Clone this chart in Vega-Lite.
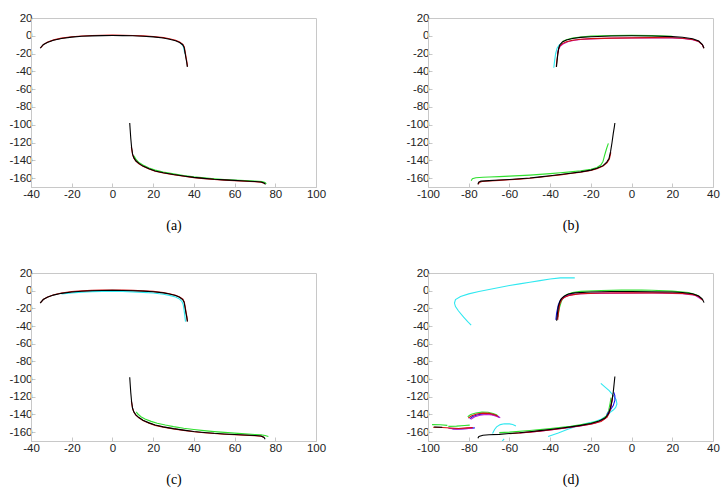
{
"$schema":"https://vega.github.io/schema/vega-lite/v6.json",
"padding":{"left":8,"top":11,"right":1,"bottom":5},
"config":{"view":{"stroke":"#c8c8c8"},"axis":{"grid":false,"labelFlush":false,"labelOverlap":false,"labelExpr":"'' + datum.value","domainColor":"#c8c8c8","tickColor":"#c8c8c8","tickSize":-4,"labelFont":"Liberation Sans","labelFontSize":11.5,"labelColor":"#222","titleFont":"Liberation Serif","titleFontSize":14,"titleFontWeight":"normal","titleColor":"#000","titlePadding":19},"axisX":{"labelPadding":5},"axisY":{"labelPadding":3}},
"datasets":{"pts":[
{"p":"a","s":"au1c","c":"1c","x":33.5,"y":-8.2},{"p":"a","s":"au1c","c":"1c","x":34.6,"y":-11},{"p":"a","s":"au1c","c":"1c","x":35.1,"y":-14},{"p":"a","s":"au1c","c":"1c","x":35.5,"y":-20},
{"p":"a","s":"au5r","c":"5r","x":-35.3,"y":-13.6},{"p":"a","s":"au5r","c":"5r","x":-33.8,"y":-9.6},{"p":"a","s":"au5r","c":"5r","x":-31.8,"y":-7.1},{"p":"a","s":"au5r","c":"5r","x":-28.8,"y":-4.6},{"p":"a","s":"au5r","c":"5r","x":-25,"y":-2.6},{"p":"a","s":"au5r","c":"5r","x":-20,"y":-1.1},{"p":"a","s":"au5r","c":"5r","x":-15,"y":-0.2},{"p":"a","s":"au5r","c":"5r","x":-10,"y":0.3},{"p":"a","s":"au5r","c":"5r","x":-5,"y":0.6},{"p":"a","s":"au5r","c":"5r","x":0,"y":0.7},{"p":"a","s":"au5r","c":"5r","x":5,"y":0.6},{"p":"a","s":"au5r","c":"5r","x":10,"y":0.4},{"p":"a","s":"au5r","c":"5r","x":15,"y":-0.1},{"p":"a","s":"au5r","c":"5r","x":20,"y":-0.8},{"p":"a","s":"au5r","c":"5r","x":25,"y":-2.1},{"p":"a","s":"au5r","c":"5r","x":28,"y":-3.4},{"p":"a","s":"au5r","c":"5r","x":31,"y":-5.1},{"p":"a","s":"au5r","c":"5r","x":33,"y":-7.1},{"p":"a","s":"au5r","c":"5r","x":34.6,"y":-9.6},{"p":"a","s":"au5r","c":"5r","x":35.3,"y":-12.6},{"p":"a","s":"au5r","c":"5r","x":35.7,"y":-17.6},{"p":"a","s":"au5r","c":"5r","x":36.2,"y":-24.6},{"p":"a","s":"au5r","c":"5r","x":36.6,"y":-29.6},{"p":"a","s":"au5r","c":"5r","x":36.9,"y":-34.6},
{"p":"a","s":"au6k","c":"6k","x":-35.5,"y":-14},{"p":"a","s":"au6k","c":"6k","x":-34,"y":-10},{"p":"a","s":"au6k","c":"6k","x":-32,"y":-7.5},{"p":"a","s":"au6k","c":"6k","x":-29,"y":-5},{"p":"a","s":"au6k","c":"6k","x":-25,"y":-3},{"p":"a","s":"au6k","c":"6k","x":-20,"y":-1.5},{"p":"a","s":"au6k","c":"6k","x":-15,"y":-0.6},{"p":"a","s":"au6k","c":"6k","x":-10,"y":-0.1},{"p":"a","s":"au6k","c":"6k","x":-5,"y":0.2},{"p":"a","s":"au6k","c":"6k","x":0,"y":0.3},{"p":"a","s":"au6k","c":"6k","x":5,"y":0.2},{"p":"a","s":"au6k","c":"6k","x":10,"y":0},{"p":"a","s":"au6k","c":"6k","x":15,"y":-0.5},{"p":"a","s":"au6k","c":"6k","x":20,"y":-1.2},{"p":"a","s":"au6k","c":"6k","x":25,"y":-2.5},{"p":"a","s":"au6k","c":"6k","x":28,"y":-3.8},{"p":"a","s":"au6k","c":"6k","x":31,"y":-5.5},{"p":"a","s":"au6k","c":"6k","x":33,"y":-7.5},{"p":"a","s":"au6k","c":"6k","x":34.5,"y":-10},{"p":"a","s":"au6k","c":"6k","x":35.2,"y":-13},{"p":"a","s":"au6k","c":"6k","x":35.6,"y":-18},{"p":"a","s":"au6k","c":"6k","x":36.1,"y":-25},{"p":"a","s":"au6k","c":"6k","x":36.5,"y":-30},{"p":"a","s":"au6k","c":"6k","x":36.8,"y":-35},
{"p":"a","s":"al2g","c":"2g","x":10.6,"y":-135},{"p":"a","s":"al2g","c":"2g","x":11.5,"y":-138.8},{"p":"a","s":"al2g","c":"2g","x":13,"y":-142.5},{"p":"a","s":"al2g","c":"2g","x":15,"y":-145.3},{"p":"a","s":"al2g","c":"2g","x":18,"y":-148.6},{"p":"a","s":"al2g","c":"2g","x":21,"y":-151},{"p":"a","s":"al2g","c":"2g","x":25,"y":-153.2},{"p":"a","s":"al2g","c":"2g","x":30,"y":-155.2},{"p":"a","s":"al2g","c":"2g","x":35,"y":-157},{"p":"a","s":"al2g","c":"2g","x":40,"y":-158.5},{"p":"a","s":"al2g","c":"2g","x":45,"y":-159.7},{"p":"a","s":"al2g","c":"2g","x":50,"y":-160.7},{"p":"a","s":"al2g","c":"2g","x":55,"y":-161.5},{"p":"a","s":"al2g","c":"2g","x":60,"y":-162.1},{"p":"a","s":"al2g","c":"2g","x":65,"y":-162.7},{"p":"a","s":"al2g","c":"2g","x":70,"y":-163.3},{"p":"a","s":"al2g","c":"2g","x":73.5,"y":-163.9},{"p":"a","s":"al2g","c":"2g","x":75,"y":-165},{"p":"a","s":"al2g","c":"2g","x":75.6,"y":-166.6},
{"p":"a","s":"al5r","c":"5r","x":9.3,"y":-125},{"p":"a","s":"al5r","c":"5r","x":9.9,"y":-133.3},{"p":"a","s":"al5r","c":"5r","x":10.5,"y":-137.3},{"p":"a","s":"al5r","c":"5r","x":11.5,"y":-140.8},{"p":"a","s":"al5r","c":"5r","x":13,"y":-143.8},{"p":"a","s":"al5r","c":"5r","x":15,"y":-146.8},{"p":"a","s":"al5r","c":"5r","x":18,"y":-149.8},{"p":"a","s":"al5r","c":"5r","x":21,"y":-152.3},{"p":"a","s":"al5r","c":"5r","x":25,"y":-154.3},{"p":"a","s":"al5r","c":"5r","x":30,"y":-156.3},{"p":"a","s":"al5r","c":"5r","x":35,"y":-158},{"p":"a","s":"al5r","c":"5r","x":40,"y":-159.5},{"p":"a","s":"al5r","c":"5r","x":45,"y":-160.6},{"p":"a","s":"al5r","c":"5r","x":50,"y":-161.6},{"p":"a","s":"al5r","c":"5r","x":55,"y":-162.3},{"p":"a","s":"al5r","c":"5r","x":60,"y":-162.9},{"p":"a","s":"al5r","c":"5r","x":65,"y":-163.5},{"p":"a","s":"al5r","c":"5r","x":70,"y":-164.1},{"p":"a","s":"al5r","c":"5r","x":73,"y":-164.6},{"p":"a","s":"al5r","c":"5r","x":74.5,"y":-165.8},
{"p":"a","s":"al6k","c":"6k","x":8.5,"y":-98},{"p":"a","s":"al6k","c":"6k","x":8.7,"y":-105},{"p":"a","s":"al6k","c":"6k","x":9,"y":-115},{"p":"a","s":"al6k","c":"6k","x":9.4,"y":-125},{"p":"a","s":"al6k","c":"6k","x":9.9,"y":-133},{"p":"a","s":"al6k","c":"6k","x":10.5,"y":-137},{"p":"a","s":"al6k","c":"6k","x":11.5,"y":-140.5},{"p":"a","s":"al6k","c":"6k","x":13,"y":-143.5},{"p":"a","s":"al6k","c":"6k","x":15,"y":-146.5},{"p":"a","s":"al6k","c":"6k","x":18,"y":-149.5},{"p":"a","s":"al6k","c":"6k","x":21,"y":-152},{"p":"a","s":"al6k","c":"6k","x":25,"y":-154},{"p":"a","s":"al6k","c":"6k","x":30,"y":-156},{"p":"a","s":"al6k","c":"6k","x":35,"y":-157.7},{"p":"a","s":"al6k","c":"6k","x":40,"y":-159.2},{"p":"a","s":"al6k","c":"6k","x":45,"y":-160.3},{"p":"a","s":"al6k","c":"6k","x":50,"y":-161.3},{"p":"a","s":"al6k","c":"6k","x":55,"y":-162},{"p":"a","s":"al6k","c":"6k","x":60,"y":-162.6},{"p":"a","s":"al6k","c":"6k","x":65,"y":-163.2},{"p":"a","s":"al6k","c":"6k","x":70,"y":-163.8},{"p":"a","s":"al6k","c":"6k","x":73,"y":-164.3},{"p":"a","s":"al6k","c":"6k","x":74.5,"y":-165.5},{"p":"a","s":"al6k","c":"6k","x":75.2,"y":-167},

{"p":"b","s":"bu1c","c":"1c","x":-38.2,"y":-36},{"p":"b","s":"bu1c","c":"1c","x":-37.8,"y":-28},{"p":"b","s":"bu1c","c":"1c","x":-37.3,"y":-20},{"p":"b","s":"bu1c","c":"1c","x":-36.6,"y":-14},{"p":"b","s":"bu1c","c":"1c","x":-35.6,"y":-10.5},{"p":"b","s":"bu1c","c":"1c","x":-34.2,"y":-8},
{"p":"b","s":"bu2g","c":"2g","x":-34,"y":-6.5},{"p":"b","s":"bu2g","c":"2g","x":-32,"y":-4.4},{"p":"b","s":"bu2g","c":"2g","x":-29,"y":-2.6},{"p":"b","s":"bu2g","c":"2g","x":-25,"y":-1.3},{"p":"b","s":"bu2g","c":"2g","x":-20,"y":-0.4},{"p":"b","s":"bu2g","c":"2g","x":-10,"y":0.4},{"p":"b","s":"bu2g","c":"2g","x":0,"y":0.5},{"p":"b","s":"bu2g","c":"2g","x":10,"y":0.2},{"p":"b","s":"bu2g","c":"2g","x":20,"y":-0.6},
{"p":"b","s":"bu4m","c":"4m","x":-36.5,"y":-20},{"p":"b","s":"bu4m","c":"4m","x":-35.8,"y":-15},{"p":"b","s":"bu4m","c":"4m","x":-35,"y":-11.5},{"p":"b","s":"bu4m","c":"4m","x":-33.5,"y":-9},{"p":"b","s":"bu4m","c":"4m","x":-31,"y":-6.5},{"p":"b","s":"bu4m","c":"4m","x":-28,"y":-5},{"p":"b","s":"bu4m","c":"4m","x":-25,"y":-4.2},{"p":"b","s":"bu4m","c":"4m","x":-20,"y":-3.5},{"p":"b","s":"bu4m","c":"4m","x":-10,"y":-2.8},{"p":"b","s":"bu4m","c":"4m","x":0,"y":-2.5},{"p":"b","s":"bu4m","c":"4m","x":10,"y":-2.3},{"p":"b","s":"bu4m","c":"4m","x":20,"y":-2.5},{"p":"b","s":"bu4m","c":"4m","x":25,"y":-3},{"p":"b","s":"bu4m","c":"4m","x":30,"y":-4.3},{"p":"b","s":"bu4m","c":"4m","x":33,"y":-6.5},{"p":"b","s":"bu4m","c":"4m","x":34.8,"y":-10.2},{"p":"b","s":"bu4m","c":"4m","x":35.4,"y":-13.5},
{"p":"b","s":"bu5r","c":"5r","x":-37,"y":-35},{"p":"b","s":"bu5r","c":"5r","x":-36.7,"y":-28},{"p":"b","s":"bu5r","c":"5r","x":-36.3,"y":-21},{"p":"b","s":"bu5r","c":"5r","x":-35.9,"y":-15.5},{"p":"b","s":"bu5r","c":"5r","x":-35.3,"y":-11.5},{"p":"b","s":"bu5r","c":"5r","x":-34,"y":-8.8},{"p":"b","s":"bu5r","c":"5r","x":-32,"y":-6.8},{"p":"b","s":"bu5r","c":"5r","x":-29,"y":-5},{"p":"b","s":"bu5r","c":"5r","x":-25,"y":-3.9},{"p":"b","s":"bu5r","c":"5r","x":-20,"y":-3.2},{"p":"b","s":"bu5r","c":"5r","x":-10,"y":-2.6},{"p":"b","s":"bu5r","c":"5r","x":0,"y":-2.3},{"p":"b","s":"bu5r","c":"5r","x":10,"y":-2.1},{"p":"b","s":"bu5r","c":"5r","x":20,"y":-2.2},{"p":"b","s":"bu5r","c":"5r","x":25,"y":-2.7},{"p":"b","s":"bu5r","c":"5r","x":30,"y":-4.1},{"p":"b","s":"bu5r","c":"5r","x":33,"y":-6.4},{"p":"b","s":"bu5r","c":"5r","x":34.8,"y":-10.1},{"p":"b","s":"bu5r","c":"5r","x":35.5,"y":-14},
{"p":"b","s":"bu6k","c":"6k","x":-36.9,"y":-35},{"p":"b","s":"bu6k","c":"6k","x":-36.6,"y":-28},{"p":"b","s":"bu6k","c":"6k","x":-36.2,"y":-20},{"p":"b","s":"bu6k","c":"6k","x":-35.8,"y":-14},{"p":"b","s":"bu6k","c":"6k","x":-35.2,"y":-10},{"p":"b","s":"bu6k","c":"6k","x":-34,"y":-7},{"p":"b","s":"bu6k","c":"6k","x":-32,"y":-4.8},{"p":"b","s":"bu6k","c":"6k","x":-29,"y":-3},{"p":"b","s":"bu6k","c":"6k","x":-25,"y":-1.8},{"p":"b","s":"bu6k","c":"6k","x":-20,"y":-1},{"p":"b","s":"bu6k","c":"6k","x":-10,"y":-0.3},{"p":"b","s":"bu6k","c":"6k","x":0,"y":0},{"p":"b","s":"bu6k","c":"6k","x":10,"y":-0.2},{"p":"b","s":"bu6k","c":"6k","x":20,"y":-0.9},{"p":"b","s":"bu6k","c":"6k","x":25,"y":-1.7},{"p":"b","s":"bu6k","c":"6k","x":30,"y":-3.4},{"p":"b","s":"bu6k","c":"6k","x":33,"y":-5.9},{"p":"b","s":"bu6k","c":"6k","x":34.8,"y":-9.8},{"p":"b","s":"bu6k","c":"6k","x":35.6,"y":-14},
{"p":"b","s":"bl2g","c":"2g","x":-78.8,"y":-163},{"p":"b","s":"bl2g","c":"2g","x":-78.2,"y":-160.8},{"p":"b","s":"bl2g","c":"2g","x":-76.5,"y":-159.6},{"p":"b","s":"bl2g","c":"2g","x":-73,"y":-159},{"p":"b","s":"bl2g","c":"2g","x":-70,"y":-158.7},{"p":"b","s":"bl2g","c":"2g","x":-65,"y":-158.3},{"p":"b","s":"bl2g","c":"2g","x":-60,"y":-157.8},{"p":"b","s":"bl2g","c":"2g","x":-55,"y":-157.2},{"p":"b","s":"bl2g","c":"2g","x":-50,"y":-156.6},{"p":"b","s":"bl2g","c":"2g","x":-45,"y":-155.8},{"p":"b","s":"bl2g","c":"2g","x":-40,"y":-155},{"p":"b","s":"bl2g","c":"2g","x":-35,"y":-154},{"p":"b","s":"bl2g","c":"2g","x":-30,"y":-153},{"p":"b","s":"bl2g","c":"2g","x":-25,"y":-151.8},{"p":"b","s":"bl2g","c":"2g","x":-20,"y":-150},{"p":"b","s":"bl2g","c":"2g","x":-17,"y":-148},{"p":"b","s":"bl2g","c":"2g","x":-15,"y":-145},{"p":"b","s":"bl2g","c":"2g","x":-14,"y":-141},{"p":"b","s":"bl2g","c":"2g","x":-13.2,"y":-134},{"p":"b","s":"bl2g","c":"2g","x":-12.3,"y":-127},{"p":"b","s":"bl2g","c":"2g","x":-11.4,"y":-121},
{"p":"b","s":"bl5r","c":"5r","x":-75.3,"y":-167},{"p":"b","s":"bl5r","c":"5r","x":-74.8,"y":-164.8},{"p":"b","s":"bl5r","c":"5r","x":-73.5,"y":-163.8},{"p":"b","s":"bl5r","c":"5r","x":-70,"y":-163.2},{"p":"b","s":"bl5r","c":"5r","x":-65,"y":-162.6},{"p":"b","s":"bl5r","c":"5r","x":-60,"y":-161.9},{"p":"b","s":"bl5r","c":"5r","x":-55,"y":-161.1},{"p":"b","s":"bl5r","c":"5r","x":-50,"y":-160.2},{"p":"b","s":"bl5r","c":"5r","x":-45,"y":-159},{"p":"b","s":"bl5r","c":"5r","x":-40,"y":-157.7},{"p":"b","s":"bl5r","c":"5r","x":-35,"y":-156.4},{"p":"b","s":"bl5r","c":"5r","x":-30,"y":-154.9},{"p":"b","s":"bl5r","c":"5r","x":-25,"y":-153.4},{"p":"b","s":"bl5r","c":"5r","x":-20,"y":-151.5},{"p":"b","s":"bl5r","c":"5r","x":-17,"y":-149.5},{"p":"b","s":"bl5r","c":"5r","x":-14,"y":-146.5},{"p":"b","s":"bl5r","c":"5r","x":-12,"y":-142.5},{"p":"b","s":"bl5r","c":"5r","x":-10.9,"y":-138.5},{"p":"b","s":"bl5r","c":"5r","x":-10.2,"y":-131},
{"p":"b","s":"bl6k","c":"6k","x":-75.5,"y":-167},{"p":"b","s":"bl6k","c":"6k","x":-75.1,"y":-164.5},{"p":"b","s":"bl6k","c":"6k","x":-74,"y":-163.4},{"p":"b","s":"bl6k","c":"6k","x":-70,"y":-162.8},{"p":"b","s":"bl6k","c":"6k","x":-65,"y":-162.2},{"p":"b","s":"bl6k","c":"6k","x":-60,"y":-161.5},{"p":"b","s":"bl6k","c":"6k","x":-55,"y":-160.7},{"p":"b","s":"bl6k","c":"6k","x":-50,"y":-159.8},{"p":"b","s":"bl6k","c":"6k","x":-45,"y":-158.6},{"p":"b","s":"bl6k","c":"6k","x":-40,"y":-157.3},{"p":"b","s":"bl6k","c":"6k","x":-35,"y":-156},{"p":"b","s":"bl6k","c":"6k","x":-30,"y":-154.5},{"p":"b","s":"bl6k","c":"6k","x":-25,"y":-153},{"p":"b","s":"bl6k","c":"6k","x":-20,"y":-151},{"p":"b","s":"bl6k","c":"6k","x":-17,"y":-149},{"p":"b","s":"bl6k","c":"6k","x":-14,"y":-146},{"p":"b","s":"bl6k","c":"6k","x":-12.2,"y":-142},{"p":"b","s":"bl6k","c":"6k","x":-11.1,"y":-138},{"p":"b","s":"bl6k","c":"6k","x":-10.3,"y":-130},{"p":"b","s":"bl6k","c":"6k","x":-9.6,"y":-120},{"p":"b","s":"bl6k","c":"6k","x":-9,"y":-110},{"p":"b","s":"bl6k","c":"6k","x":-8.5,"y":-103},{"p":"b","s":"bl6k","c":"6k","x":-8.2,"y":-98},

{"p":"c","s":"cu1c","c":"1c","x":-25,"y":-3.8},{"p":"c","s":"cu1c","c":"1c","x":-20,"y":-2.5},{"p":"c","s":"cu1c","c":"1c","x":-15,"y":-1.6},{"p":"c","s":"cu1c","c":"1c","x":-10,"y":-1.1},{"p":"c","s":"cu1c","c":"1c","x":-5,"y":-0.9},{"p":"c","s":"cu1c","c":"1c","x":0,"y":-0.9},{"p":"c","s":"cu1c","c":"1c","x":5,"y":-1},{"p":"c","s":"cu1c","c":"1c","x":10,"y":-1.3},{"p":"c","s":"cu1c","c":"1c","x":15,"y":-1.9},{"p":"c","s":"cu1c","c":"1c","x":20,"y":-2.7},{"p":"c","s":"cu1c","c":"1c","x":25,"y":-4},{"p":"c","s":"cu1c","c":"1c","x":28,"y":-5.3},{"p":"c","s":"cu1c","c":"1c","x":31,"y":-7.2},{"p":"c","s":"cu1c","c":"1c","x":33,"y":-9.5},{"p":"c","s":"cu1c","c":"1c","x":34.2,"y":-12.5},{"p":"c","s":"cu1c","c":"1c","x":34.8,"y":-16},{"p":"c","s":"cu1c","c":"1c","x":35.2,"y":-22},{"p":"c","s":"cu1c","c":"1c","x":35.6,"y":-29},{"p":"c","s":"cu1c","c":"1c","x":35.9,"y":-35},
{"p":"c","s":"cu5r","c":"5r","x":-35.3,"y":-13.6},{"p":"c","s":"cu5r","c":"5r","x":-33.8,"y":-9.6},{"p":"c","s":"cu5r","c":"5r","x":-31.8,"y":-7.1},{"p":"c","s":"cu5r","c":"5r","x":-28.8,"y":-4.6},{"p":"c","s":"cu5r","c":"5r","x":-25,"y":-2.6},{"p":"c","s":"cu5r","c":"5r","x":-20,"y":-1.1},{"p":"c","s":"cu5r","c":"5r","x":-15,"y":-0.2},{"p":"c","s":"cu5r","c":"5r","x":-10,"y":0.3},{"p":"c","s":"cu5r","c":"5r","x":-5,"y":0.6},{"p":"c","s":"cu5r","c":"5r","x":0,"y":0.7},{"p":"c","s":"cu5r","c":"5r","x":5,"y":0.6},{"p":"c","s":"cu5r","c":"5r","x":10,"y":0.4},{"p":"c","s":"cu5r","c":"5r","x":15,"y":-0.1},{"p":"c","s":"cu5r","c":"5r","x":20,"y":-0.8},{"p":"c","s":"cu5r","c":"5r","x":25,"y":-2.1},{"p":"c","s":"cu5r","c":"5r","x":28,"y":-3.4},{"p":"c","s":"cu5r","c":"5r","x":31,"y":-5.1},{"p":"c","s":"cu5r","c":"5r","x":33,"y":-7.1},{"p":"c","s":"cu5r","c":"5r","x":34.6,"y":-9.6},{"p":"c","s":"cu5r","c":"5r","x":35.3,"y":-12.6},{"p":"c","s":"cu5r","c":"5r","x":35.7,"y":-17.6},{"p":"c","s":"cu5r","c":"5r","x":36.2,"y":-24.6},{"p":"c","s":"cu5r","c":"5r","x":36.6,"y":-29.6},{"p":"c","s":"cu5r","c":"5r","x":36.9,"y":-34.6},
{"p":"c","s":"cu6k","c":"6k","x":-35.5,"y":-14},{"p":"c","s":"cu6k","c":"6k","x":-34,"y":-10},{"p":"c","s":"cu6k","c":"6k","x":-32,"y":-7.5},{"p":"c","s":"cu6k","c":"6k","x":-29,"y":-5},{"p":"c","s":"cu6k","c":"6k","x":-25,"y":-3},{"p":"c","s":"cu6k","c":"6k","x":-20,"y":-1.5},{"p":"c","s":"cu6k","c":"6k","x":-15,"y":-0.6},{"p":"c","s":"cu6k","c":"6k","x":-10,"y":-0.1},{"p":"c","s":"cu6k","c":"6k","x":-5,"y":0.2},{"p":"c","s":"cu6k","c":"6k","x":0,"y":0.3},{"p":"c","s":"cu6k","c":"6k","x":5,"y":0.2},{"p":"c","s":"cu6k","c":"6k","x":10,"y":0},{"p":"c","s":"cu6k","c":"6k","x":15,"y":-0.5},{"p":"c","s":"cu6k","c":"6k","x":20,"y":-1.2},{"p":"c","s":"cu6k","c":"6k","x":25,"y":-2.5},{"p":"c","s":"cu6k","c":"6k","x":28,"y":-3.8},{"p":"c","s":"cu6k","c":"6k","x":31,"y":-5.5},{"p":"c","s":"cu6k","c":"6k","x":33,"y":-7.5},{"p":"c","s":"cu6k","c":"6k","x":34.5,"y":-10},{"p":"c","s":"cu6k","c":"6k","x":35.2,"y":-13},{"p":"c","s":"cu6k","c":"6k","x":35.6,"y":-18},{"p":"c","s":"cu6k","c":"6k","x":36.1,"y":-25},{"p":"c","s":"cu6k","c":"6k","x":36.5,"y":-30},{"p":"c","s":"cu6k","c":"6k","x":36.8,"y":-35},
{"p":"c","s":"cl2g","c":"2g","x":11.7,"y":-137},{"p":"c","s":"cl2g","c":"2g","x":12.5,"y":-139.5},{"p":"c","s":"cl2g","c":"2g","x":14,"y":-142.5},{"p":"c","s":"cl2g","c":"2g","x":16,"y":-145},{"p":"c","s":"cl2g","c":"2g","x":19,"y":-147.8},{"p":"c","s":"cl2g","c":"2g","x":22,"y":-150},{"p":"c","s":"cl2g","c":"2g","x":26,"y":-152},{"p":"c","s":"cl2g","c":"2g","x":30,"y":-153.7},{"p":"c","s":"cl2g","c":"2g","x":35,"y":-155.5},{"p":"c","s":"cl2g","c":"2g","x":40,"y":-157},{"p":"c","s":"cl2g","c":"2g","x":45,"y":-158.3},{"p":"c","s":"cl2g","c":"2g","x":50,"y":-159.4},{"p":"c","s":"cl2g","c":"2g","x":55,"y":-160.3},{"p":"c","s":"cl2g","c":"2g","x":60,"y":-161.1},{"p":"c","s":"cl2g","c":"2g","x":65,"y":-161.9},{"p":"c","s":"cl2g","c":"2g","x":70,"y":-162.6},{"p":"c","s":"cl2g","c":"2g","x":73,"y":-163.1},{"p":"c","s":"cl2g","c":"2g","x":75,"y":-163.8},{"p":"c","s":"cl2g","c":"2g","x":76.6,"y":-165},
{"p":"c","s":"cl5r","c":"5r","x":9.3,"y":-125},{"p":"c","s":"cl5r","c":"5r","x":9.9,"y":-133.3},{"p":"c","s":"cl5r","c":"5r","x":10.5,"y":-137.3},{"p":"c","s":"cl5r","c":"5r","x":11.5,"y":-140.8},{"p":"c","s":"cl5r","c":"5r","x":13,"y":-143.8},{"p":"c","s":"cl5r","c":"5r","x":15,"y":-146.8},{"p":"c","s":"cl5r","c":"5r","x":18,"y":-149.8},{"p":"c","s":"cl5r","c":"5r","x":21,"y":-152.3},{"p":"c","s":"cl5r","c":"5r","x":25,"y":-154.3},{"p":"c","s":"cl5r","c":"5r","x":30,"y":-156.3},{"p":"c","s":"cl5r","c":"5r","x":35,"y":-158},{"p":"c","s":"cl5r","c":"5r","x":40,"y":-159.5},{"p":"c","s":"cl5r","c":"5r","x":45,"y":-160.6},{"p":"c","s":"cl5r","c":"5r","x":50,"y":-161.6},{"p":"c","s":"cl5r","c":"5r","x":55,"y":-162.3},{"p":"c","s":"cl5r","c":"5r","x":60,"y":-162.9},{"p":"c","s":"cl5r","c":"5r","x":65,"y":-163.5},{"p":"c","s":"cl5r","c":"5r","x":70,"y":-164.1},{"p":"c","s":"cl5r","c":"5r","x":73,"y":-164.6},{"p":"c","s":"cl5r","c":"5r","x":74.5,"y":-165.8},
{"p":"c","s":"cl6k","c":"6k","x":8.5,"y":-98},{"p":"c","s":"cl6k","c":"6k","x":8.7,"y":-105},{"p":"c","s":"cl6k","c":"6k","x":9,"y":-115},{"p":"c","s":"cl6k","c":"6k","x":9.4,"y":-125},{"p":"c","s":"cl6k","c":"6k","x":9.9,"y":-133},{"p":"c","s":"cl6k","c":"6k","x":10.5,"y":-137},{"p":"c","s":"cl6k","c":"6k","x":11.5,"y":-140.5},{"p":"c","s":"cl6k","c":"6k","x":13,"y":-143.5},{"p":"c","s":"cl6k","c":"6k","x":15,"y":-146.5},{"p":"c","s":"cl6k","c":"6k","x":18,"y":-149.5},{"p":"c","s":"cl6k","c":"6k","x":21,"y":-152},{"p":"c","s":"cl6k","c":"6k","x":25,"y":-154},{"p":"c","s":"cl6k","c":"6k","x":30,"y":-156},{"p":"c","s":"cl6k","c":"6k","x":35,"y":-157.7},{"p":"c","s":"cl6k","c":"6k","x":40,"y":-159.2},{"p":"c","s":"cl6k","c":"6k","x":45,"y":-160.3},{"p":"c","s":"cl6k","c":"6k","x":50,"y":-161.3},{"p":"c","s":"cl6k","c":"6k","x":55,"y":-162},{"p":"c","s":"cl6k","c":"6k","x":60,"y":-162.6},{"p":"c","s":"cl6k","c":"6k","x":65,"y":-163.2},{"p":"c","s":"cl6k","c":"6k","x":70,"y":-163.8},{"p":"c","s":"cl6k","c":"6k","x":73,"y":-164.3},{"p":"c","s":"cl6k","c":"6k","x":74.5,"y":-166},{"p":"c","s":"cl6k","c":"6k","x":75,"y":-168},

{"p":"d","s":"do1c","c":"1c","x":-27.9,"y":14.5},{"p":"d","s":"do1c","c":"1c","x":-35,"y":14.5},{"p":"d","s":"do1c","c":"1c","x":-40,"y":13.2},{"p":"d","s":"do1c","c":"1c","x":-45,"y":11.4},{"p":"d","s":"do1c","c":"1c","x":-50,"y":9.6},{"p":"d","s":"do1c","c":"1c","x":-55,"y":7.7},{"p":"d","s":"do1c","c":"1c","x":-60,"y":5.8},{"p":"d","s":"do1c","c":"1c","x":-65,"y":3.6},{"p":"d","s":"do1c","c":"1c","x":-70,"y":1.4},{"p":"d","s":"do1c","c":"1c","x":-75,"y":-1},{"p":"d","s":"do1c","c":"1c","x":-80,"y":-3.6},{"p":"d","s":"do1c","c":"1c","x":-84,"y":-6.5},{"p":"d","s":"do1c","c":"1c","x":-86.5,"y":-10},{"p":"d","s":"do1c","c":"1c","x":-87,"y":-14},{"p":"d","s":"do1c","c":"1c","x":-86.5,"y":-18},{"p":"d","s":"do1c","c":"1c","x":-85,"y":-23},{"p":"d","s":"do1c","c":"1c","x":-82.5,"y":-30},{"p":"d","s":"do1c","c":"1c","x":-80.5,"y":-35},{"p":"d","s":"do1c","c":"1c","x":-78.8,"y":-39},
{"p":"d","s":"du2g","c":"2g","x":-36.2,"y":-30},{"p":"d","s":"du2g","c":"2g","x":-35.5,"y":-20},{"p":"d","s":"du2g","c":"2g","x":-34.5,"y":-12},{"p":"d","s":"du2g","c":"2g","x":-33.5,"y":-8},{"p":"d","s":"du2g","c":"2g","x":-32,"y":-4.5},{"p":"d","s":"du2g","c":"2g","x":-29,"y":-2},{"p":"d","s":"du2g","c":"2g","x":-25,"y":-0.8},{"p":"d","s":"du2g","c":"2g","x":-15,"y":0.2},{"p":"d","s":"du2g","c":"2g","x":-5,"y":0.6},{"p":"d","s":"du2g","c":"2g","x":5,"y":0.6},{"p":"d","s":"du2g","c":"2g","x":10,"y":0.5},{"p":"d","s":"du2g","c":"2g","x":20,"y":-0.5},{"p":"d","s":"du2g","c":"2g","x":28,"y":-2},{"p":"d","s":"du2g","c":"2g","x":32,"y":-5},{"p":"d","s":"du2g","c":"2g","x":34.5,"y":-9},
{"p":"d","s":"du3b","c":"3b","x":-37.2,"y":-33},{"p":"d","s":"du3b","c":"3b","x":-36.8,"y":-25},{"p":"d","s":"du3b","c":"3b","x":-36,"y":-16},{"p":"d","s":"du3b","c":"3b","x":-35,"y":-11},{"p":"d","s":"du3b","c":"3b","x":-33.5,"y":-7.5},{"p":"d","s":"du3b","c":"3b","x":-31,"y":-5},{"p":"d","s":"du3b","c":"3b","x":-28,"y":-3.5},
{"p":"d","s":"du4m","c":"4m","x":-36.5,"y":-32},{"p":"d","s":"du4m","c":"4m","x":-36,"y":-22},{"p":"d","s":"du4m","c":"4m","x":-35.2,"y":-13},{"p":"d","s":"du4m","c":"4m","x":-33.8,"y":-8.5},{"p":"d","s":"du4m","c":"4m","x":-31,"y":-5.3},{"p":"d","s":"du4m","c":"4m","x":-27,"y":-3.8},{"p":"d","s":"du4m","c":"4m","x":-20,"y":-3},{"p":"d","s":"du4m","c":"4m","x":-5,"y":-2.8},{"p":"d","s":"du4m","c":"4m","x":10,"y":-2.7},{"p":"d","s":"du4m","c":"4m","x":25,"y":-3.3},{"p":"d","s":"du4m","c":"4m","x":31,"y":-5},{"p":"d","s":"du4m","c":"4m","x":34.5,"y":-10},
{"p":"d","s":"du5r","c":"5r","x":-36.3,"y":-33},{"p":"d","s":"du5r","c":"5r","x":-35.9,"y":-24},{"p":"d","s":"du5r","c":"5r","x":-35.3,"y":-15},{"p":"d","s":"du5r","c":"5r","x":-34.3,"y":-10},{"p":"d","s":"du5r","c":"5r","x":-33,"y":-7.5},{"p":"d","s":"du5r","c":"5r","x":-30,"y":-5},{"p":"d","s":"du5r","c":"5r","x":-25,"y":-3.5},{"p":"d","s":"du5r","c":"5r","x":-15,"y":-2.7},{"p":"d","s":"du5r","c":"5r","x":0,"y":-2.5},{"p":"d","s":"du5r","c":"5r","x":15,"y":-2.5},{"p":"d","s":"du5r","c":"5r","x":25,"y":-3},{"p":"d","s":"du5r","c":"5r","x":30,"y":-4.3},{"p":"d","s":"du5r","c":"5r","x":33,"y":-6.5},{"p":"d","s":"du5r","c":"5r","x":35,"y":-11},
{"p":"d","s":"du6k","c":"6k","x":-36.8,"y":-34},{"p":"d","s":"du6k","c":"6k","x":-36.5,"y":-27},{"p":"d","s":"du6k","c":"6k","x":-36,"y":-18},{"p":"d","s":"du6k","c":"6k","x":-35.3,"y":-12.5},{"p":"d","s":"du6k","c":"6k","x":-34.5,"y":-9},{"p":"d","s":"du6k","c":"6k","x":-33,"y":-6},{"p":"d","s":"du6k","c":"6k","x":-31,"y":-3.8},{"p":"d","s":"du6k","c":"6k","x":-28,"y":-2.5},{"p":"d","s":"du6k","c":"6k","x":-20,"y":-1.5},{"p":"d","s":"du6k","c":"6k","x":-10,"y":-1},{"p":"d","s":"du6k","c":"6k","x":0,"y":-1},{"p":"d","s":"du6k","c":"6k","x":10,"y":-1.2},{"p":"d","s":"du6k","c":"6k","x":20,"y":-1.5},{"p":"d","s":"du6k","c":"6k","x":25,"y":-2},{"p":"d","s":"du6k","c":"6k","x":30,"y":-3.5},{"p":"d","s":"du6k","c":"6k","x":33,"y":-6},{"p":"d","s":"du6k","c":"6k","x":34.8,"y":-9.5},{"p":"d","s":"du6k","c":"6k","x":35.6,"y":-13.5},
{"p":"d","s":"dl1c","c":"1c","x":-15.1,"y":-104.8},{"p":"d","s":"dl1c","c":"1c","x":-13,"y":-109},{"p":"d","s":"dl1c","c":"1c","x":-11,"y":-113},{"p":"d","s":"dl1c","c":"1c","x":-9,"y":-118.5},{"p":"d","s":"dl1c","c":"1c","x":-7.6,"y":-123},{"p":"d","s":"dl1c","c":"1c","x":-7.2,"y":-128},{"p":"d","s":"dl1c","c":"1c","x":-7.8,"y":-132},{"p":"d","s":"dl1c","c":"1c","x":-9,"y":-135},{"p":"d","s":"dl1c","c":"1c","x":-10.5,"y":-137.5},{"p":"d","s":"dl1c","c":"1c","x":-12.5,"y":-142},{"p":"d","s":"dl1c","c":"1c","x":-15,"y":-145.5},{"p":"d","s":"dl1c","c":"1c","x":-18,"y":-148},{"p":"d","s":"dl1c","c":"1c","x":-22,"y":-150},{"p":"d","s":"dl1c","c":"1c","x":-26,"y":-152.5},{"p":"d","s":"dl1c","c":"1c","x":-31,"y":-156.5},{"p":"d","s":"dl1c","c":"1c","x":-36,"y":-161},{"p":"d","s":"dl1c","c":"1c","x":-41,"y":-165},
{"p":"d","s":"dk1c","c":"1c","x":-68.3,"y":-161.4},{"p":"d","s":"dk1c","c":"1c","x":-67.3,"y":-157},{"p":"d","s":"dk1c","c":"1c","x":-66.3,"y":-154},{"p":"d","s":"dk1c","c":"1c","x":-64.5,"y":-151.5},{"p":"d","s":"dk1c","c":"1c","x":-62.5,"y":-150.5},{"p":"d","s":"dk1c","c":"1c","x":-60,"y":-150.6},{"p":"d","s":"dk1c","c":"1c","x":-58.4,"y":-151.3},{"p":"d","s":"dk1c","c":"1c","x":-56.8,"y":-153},
{"p":"d","s":"dm1c","c":"1c","x":-63.8,"y":-171},{"p":"d","s":"dm1c","c":"1c","x":-62.6,"y":-167.5},
{"p":"d","s":"dl2g","c":"2g","x":-65,"y":-160.5},{"p":"d","s":"dl2g","c":"2g","x":-60,"y":-160},{"p":"d","s":"dl2g","c":"2g","x":-50,"y":-158.2},{"p":"d","s":"dl2g","c":"2g","x":-40,"y":-156},{"p":"d","s":"dl2g","c":"2g","x":-30,"y":-153.3},{"p":"d","s":"dl2g","c":"2g","x":-20,"y":-149.8},{"p":"d","s":"dl2g","c":"2g","x":-15,"y":-146.5},{"p":"d","s":"dl2g","c":"2g","x":-12.5,"y":-142},{"p":"d","s":"dl2g","c":"2g","x":-11.3,"y":-136},{"p":"d","s":"dl2g","c":"2g","x":-10.6,"y":-128},{"p":"d","s":"dl2g","c":"2g","x":-10.1,"y":-121},
{"p":"d","s":"dl3b","c":"3b","x":-12.2,"y":-140},{"p":"d","s":"dl3b","c":"3b","x":-10.5,"y":-135},{"p":"d","s":"dl3b","c":"3b","x":-9,"y":-130},{"p":"d","s":"dl3b","c":"3b","x":-8.2,"y":-124},{"p":"d","s":"dl3b","c":"3b","x":-8.2,"y":-119},{"p":"d","s":"dl3b","c":"3b","x":-8.7,"y":-115},
{"p":"d","s":"dl4m","c":"4m","x":-55,"y":-161},{"p":"d","s":"dl4m","c":"4m","x":-45,"y":-158.8},{"p":"d","s":"dl4m","c":"4m","x":-35,"y":-156},{"p":"d","s":"dl4m","c":"4m","x":-25,"y":-153},{"p":"d","s":"dl4m","c":"4m","x":-18,"y":-149.8},{"p":"d","s":"dl4m","c":"4m","x":-13.5,"y":-145.5},{"p":"d","s":"dl4m","c":"4m","x":-11.3,"y":-140},{"p":"d","s":"dl4m","c":"4m","x":-10.2,"y":-131},{"p":"d","s":"dl4m","c":"4m","x":-9.5,"y":-122},
{"p":"d","s":"dl5r","c":"5r","x":-60,"y":-161.8},{"p":"d","s":"dl5r","c":"5r","x":-50,"y":-160},{"p":"d","s":"dl5r","c":"5r","x":-40,"y":-157.5},{"p":"d","s":"dl5r","c":"5r","x":-30,"y":-154.5},{"p":"d","s":"dl5r","c":"5r","x":-20,"y":-151},{"p":"d","s":"dl5r","c":"5r","x":-15,"y":-148},{"p":"d","s":"dl5r","c":"5r","x":-12,"y":-143},{"p":"d","s":"dl5r","c":"5r","x":-10.6,"y":-136},{"p":"d","s":"dl5r","c":"5r","x":-9.8,"y":-127},{"p":"d","s":"dl5r","c":"5r","x":-9.2,"y":-118},
{"p":"d","s":"dl6k","c":"6k","x":-75.5,"y":-167},{"p":"d","s":"dl6k","c":"6k","x":-75,"y":-165},{"p":"d","s":"dl6k","c":"6k","x":-73,"y":-163.5},{"p":"d","s":"dl6k","c":"6k","x":-70,"y":-163},{"p":"d","s":"dl6k","c":"6k","x":-65,"y":-162.5},{"p":"d","s":"dl6k","c":"6k","x":-60,"y":-161.5},{"p":"d","s":"dl6k","c":"6k","x":-55,"y":-160.7},{"p":"d","s":"dl6k","c":"6k","x":-50,"y":-159.6},{"p":"d","s":"dl6k","c":"6k","x":-45,"y":-158.3},{"p":"d","s":"dl6k","c":"6k","x":-40,"y":-157},{"p":"d","s":"dl6k","c":"6k","x":-35,"y":-155.5},{"p":"d","s":"dl6k","c":"6k","x":-30,"y":-154},{"p":"d","s":"dl6k","c":"6k","x":-25,"y":-152.3},{"p":"d","s":"dl6k","c":"6k","x":-20,"y":-150.3},{"p":"d","s":"dl6k","c":"6k","x":-16,"y":-147.5},{"p":"d","s":"dl6k","c":"6k","x":-13,"y":-144},{"p":"d","s":"dl6k","c":"6k","x":-11.3,"y":-139},{"p":"d","s":"dl6k","c":"6k","x":-10.3,"y":-132},{"p":"d","s":"dl6k","c":"6k","x":-9.6,"y":-124},{"p":"d","s":"dl6k","c":"6k","x":-9,"y":-115},{"p":"d","s":"dl6k","c":"6k","x":-8.6,"y":-106},{"p":"d","s":"dl6k","c":"6k","x":-8.2,"y":-97},
{"p":"d","s":"da2g","c":"2g","x":-80.5,"y":-142.5},{"p":"d","s":"da2g","c":"2g","x":-79,"y":-140},{"p":"d","s":"da2g","c":"2g","x":-76.5,"y":-138.3},{"p":"d","s":"da2g","c":"2g","x":-73.5,"y":-137.3},{"p":"d","s":"da2g","c":"2g","x":-70.5,"y":-137.5},{"p":"d","s":"da2g","c":"2g","x":-68,"y":-138.8},{"p":"d","s":"da2g","c":"2g","x":-66,"y":-140.5},
{"p":"d","s":"da3b","c":"3b","x":-79.5,"y":-145},{"p":"d","s":"da3b","c":"3b","x":-78,"y":-142.3},{"p":"d","s":"da3b","c":"3b","x":-75.5,"y":-140.3},{"p":"d","s":"da3b","c":"3b","x":-72.5,"y":-139.3},{"p":"d","s":"da3b","c":"3b","x":-69.5,"y":-139.5},{"p":"d","s":"da3b","c":"3b","x":-67,"y":-141},{"p":"d","s":"da3b","c":"3b","x":-65,"y":-143},
{"p":"d","s":"da4m","c":"4m","x":-79,"y":-145.5},{"p":"d","s":"da4m","c":"4m","x":-77,"y":-142.5},{"p":"d","s":"da4m","c":"4m","x":-74.5,"y":-140.8},{"p":"d","s":"da4m","c":"4m","x":-71.5,"y":-140},{"p":"d","s":"da4m","c":"4m","x":-68.5,"y":-140.5},{"p":"d","s":"da4m","c":"4m","x":-66.5,"y":-142},{"p":"d","s":"da4m","c":"4m","x":-64.5,"y":-143.8},
{"p":"d","s":"da5r","c":"5r","x":-80.2,"y":-144},{"p":"d","s":"da5r","c":"5r","x":-78.5,"y":-141.5},{"p":"d","s":"da5r","c":"5r","x":-76,"y":-139.5},{"p":"d","s":"da5r","c":"5r","x":-73,"y":-138.5},{"p":"d","s":"da5r","c":"5r","x":-70,"y":-138.8},{"p":"d","s":"da5r","c":"5r","x":-67.5,"y":-140},{"p":"d","s":"da5r","c":"5r","x":-65.5,"y":-142},
{"p":"d","s":"ds2g","c":"2g","x":-98,"y":-151.5},{"p":"d","s":"ds2g","c":"2g","x":-94,"y":-151.7},{"p":"d","s":"ds2g","c":"2g","x":-90.5,"y":-152.3},
{"p":"d","s":"dt2g","c":"2g","x":-90,"y":-153.5},{"p":"d","s":"dt2g","c":"2g","x":-86,"y":-153.2},{"p":"d","s":"dt2g","c":"2g","x":-82,"y":-152.5},{"p":"d","s":"dt2g","c":"2g","x":-79.5,"y":-152},
{"p":"d","s":"ds3b","c":"3b","x":-88,"y":-156.3},{"p":"d","s":"ds3b","c":"3b","x":-84,"y":-156.5},{"p":"d","s":"ds3b","c":"3b","x":-80,"y":-155.7},{"p":"d","s":"ds3b","c":"3b","x":-77,"y":-155.2},
{"p":"d","s":"ds4m","c":"4m","x":-90,"y":-155.5},{"p":"d","s":"ds4m","c":"4m","x":-86,"y":-156.6},{"p":"d","s":"ds4m","c":"4m","x":-82,"y":-156},{"p":"d","s":"ds4m","c":"4m","x":-78,"y":-155.5},
{"p":"d","s":"ds5r","c":"5r","x":-97.5,"y":-154.5},{"p":"d","s":"ds5r","c":"5r","x":-93,"y":-154.8},{"p":"d","s":"ds5r","c":"5r","x":-89,"y":-155.3},{"p":"d","s":"ds5r","c":"5r","x":-85,"y":-155.8},{"p":"d","s":"ds5r","c":"5r","x":-81,"y":-155.2},{"p":"d","s":"ds5r","c":"5r","x":-78,"y":-154.8},
{"p":"d","s":"ds6k","c":"6k","x":-97,"y":-154.2},{"p":"d","s":"ds6k","c":"6k","x":-93,"y":-154.5}
]},
"columns":2,
"spacing":{"row":86,"column":112},
"bounds":"flush",
"concat":[
{"width":285,"height":169,"data":{"name":"pts"},"transform":[{"filter":"datum.p==='a'"}],"mark":{"type":"line","strokeWidth":1.1,"clip":true},
"encoding":{"x":{"field":"x","type":"quantitative","scale":{"domain":[-40,100],"nice":false,"zero":false},"axis":{"values":[-40,-20,0,20,40,60,80,100],"title":"(a)"}},
"y":{"field":"y","type":"quantitative","scale":{"domain":[-170,20],"nice":false,"zero":false},"axis":{"values":[-160,-140,-120,-100,-80,-60,-40,-20,0,20],"title":null}},
"color":{"field":"c","type":"nominal","scale":{"domain":["1c","2g","3b","4m","5r","6k"],"range":["#30e8f0","#30e030","#1818f0","#c818c8","#d01010","#000000"]},"legend":null},
"detail":{"field":"s"},"order":{"value":null}}},
{"width":285,"height":169,"data":{"name":"pts"},"transform":[{"filter":"datum.p==='b'"}],"mark":{"type":"line","strokeWidth":1.1,"clip":true},
"encoding":{"x":{"field":"x","type":"quantitative","scale":{"domain":[-100,40],"nice":false,"zero":false},"axis":{"values":[-100,-80,-60,-40,-20,0,20,40],"title":"(b)"}},
"y":{"field":"y","type":"quantitative","scale":{"domain":[-170,20],"nice":false,"zero":false},"axis":{"values":[-160,-140,-120,-100,-80,-60,-40,-20,0,20],"title":null}},
"color":{"field":"c","type":"nominal","scale":{"domain":["1c","2g","3b","4m","5r","6k"],"range":["#30e8f0","#30e030","#1818f0","#c818c8","#d01010","#000000"]},"legend":null},
"detail":{"field":"s"},"order":{"value":null}}},
{"width":285,"height":168,"data":{"name":"pts"},"transform":[{"filter":"datum.p==='c'"}],"mark":{"type":"line","strokeWidth":1.1,"clip":true},
"encoding":{"x":{"field":"x","type":"quantitative","scale":{"domain":[-40,100],"nice":false,"zero":false},"axis":{"values":[-40,-20,0,20,40,60,80,100],"title":"(c)"}},
"y":{"field":"y","type":"quantitative","scale":{"domain":[-170,20],"nice":false,"zero":false},"axis":{"values":[-160,-140,-120,-100,-80,-60,-40,-20,0,20],"title":null}},
"color":{"field":"c","type":"nominal","scale":{"domain":["1c","2g","3b","4m","5r","6k"],"range":["#30e8f0","#30e030","#1818f0","#c818c8","#d01010","#000000"]},"legend":null},
"detail":{"field":"s"},"order":{"value":null}}},
{"width":285,"height":168,"data":{"name":"pts"},"transform":[{"filter":"datum.p==='d'"}],"mark":{"type":"line","strokeWidth":1.1,"clip":true},
"encoding":{"x":{"field":"x","type":"quantitative","scale":{"domain":[-100,40],"nice":false,"zero":false},"axis":{"values":[-100,-80,-60,-40,-20,0,20,40],"title":"(d)"}},
"y":{"field":"y","type":"quantitative","scale":{"domain":[-170,20],"nice":false,"zero":false},"axis":{"values":[-160,-140,-120,-100,-80,-60,-40,-20,0,20],"title":null}},
"color":{"field":"c","type":"nominal","scale":{"domain":["1c","2g","3b","4m","5r","6k"],"range":["#30e8f0","#30e030","#1818f0","#c818c8","#d01010","#000000"]},"legend":null},
"detail":{"field":"s"},"order":{"value":null}}}
]
}
